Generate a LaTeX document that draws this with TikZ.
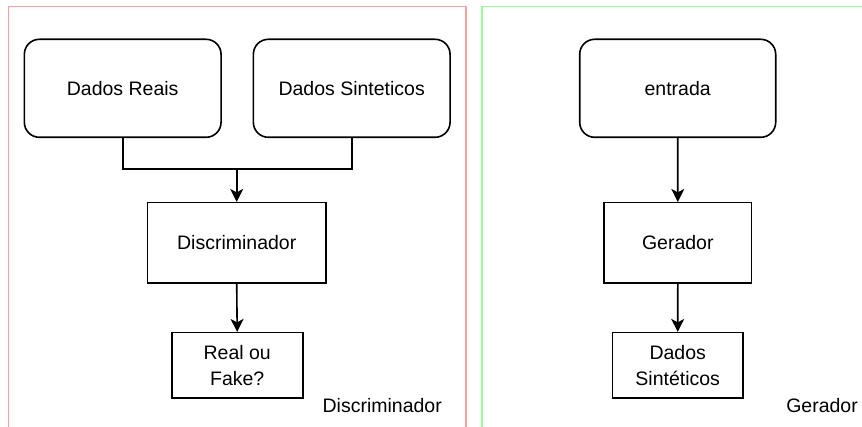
\documentclass[tikz,border=0pt]{standalone}
\usepackage{fontspec}
\setmainfont{Liberation Sans}
\usetikzlibrary{arrows.meta}
\begin{document}
\begin{tikzpicture}[x=1pt,y=1pt,
  every node/.style={font=\fontsize{19.5}{26}\selectfont, inner sep=0pt, align=center},
  block/.style={draw=black, line width=1.6pt, fill=white},
  softbox/.style={block, rounded corners=15pt},
  flow/.style={draw=black, line width=1.6pt, -{Stealth[length=13pt,width=13pt,inset=3.5pt]}},
  link/.style={draw=black, line width=1.6pt},
  framered/.style={draw={rgb,255:red,255;green,158;blue,158}, line width=1.8pt},
  framegreen/.style={draw={rgb,255:red,153;green,255;blue,153}, line width=1.8pt}]
  \useasboundingbox (0,0) rectangle (862,-427);

  % group frames (open at the bottom)
  \draw[framered] (8.5,-429) -- (8.5,-6.5) -- (465.7,-6.5) -- (465.7,-429);
  \draw[framegreen] (482,-429) -- (482,-6.5) -- (864,-6.5);

  % discriminator side
  \node[softbox, minimum width=196.7pt, minimum height=98pt] (reais) at (122.7,-88.3) {Dados Reais};
  \node[softbox, minimum width=196.7pt, minimum height=98pt] (sint) at (351.7,-88.3) {Dados Sinteticos};
  \node[block, minimum width=178.7pt, minimum height=80.6pt] (disc) at (236.7,-243) {Discriminador};
  \node[block, minimum width=131pt, minimum height=65.6pt] (rof) at (237.2,-365.5) {Real ou\\Fake?};
  \node[anchor=east] (lbldisc) at (442,-406) {Discriminador};

  \coordinate (join) at (236.7,-169.3);
  \draw[link] (reais.south) |- (join) -| (sint.south);
  \draw[flow] (join) -- (disc.north);
  \draw[flow] (disc.south) -- (rof.north);

  % generator side
  \node[softbox, minimum width=196pt, minimum height=98pt] (entrada) at (677.7,-88.3) {entrada};
  \node[block, minimum width=147.7pt, minimum height=80.6pt] (ger) at (677.8,-243) {Gerador};
  \node[block, minimum width=130.7pt, minimum height=65.6pt] (dsint) at (677.7,-365.5) {Dados\\Sintéticos};
  \node[anchor=east] (lblger) at (858,-406) {Gerador};

  \draw[flow] (entrada.south) -- (ger.north);
  \draw[flow] (ger.south) -- (dsint.north);
\end{tikzpicture}
\end{document}
